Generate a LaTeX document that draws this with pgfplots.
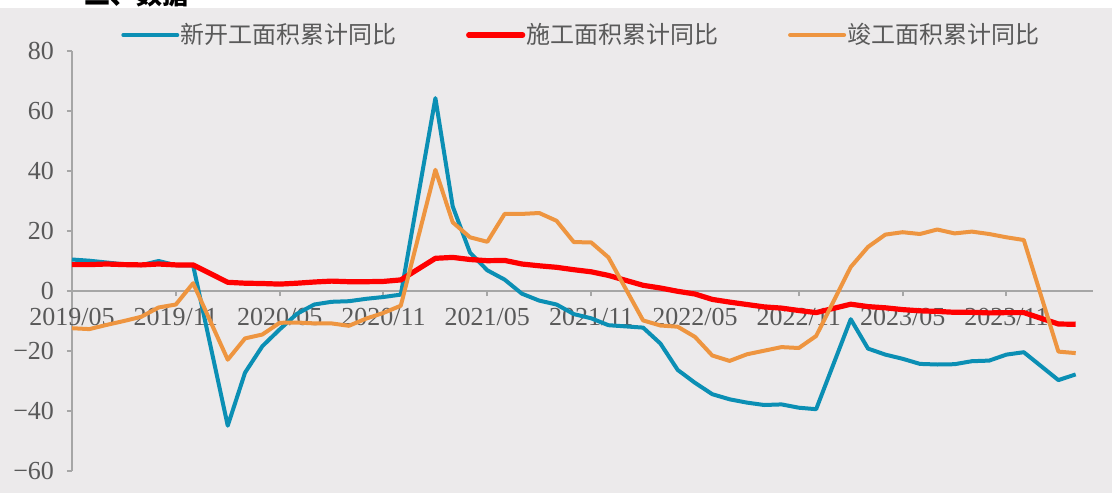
\documentclass[border=0pt]{standalone}
\usepackage{pgfplots}
\pgfplotsset{compat=1.18}
\usepackage{fontspec}
\setmainfont{Liberation Serif}
\newfontfamily\cjk{Noto Sans CJK SC}
\definecolor{bg}{HTML}{ECEAEB}
\definecolor{cblue}{HTML}{0B8FB4}
\definecolor{cred}{HTML}{FF0000}
\definecolor{corange}{HTML}{EE9540}
\definecolor{txt}{HTML}{595959}
\definecolor{axl}{HTML}{A6A6A6}
\pgfplotsset{myleg/.style={legend image code/.code={\draw[##1, line cap=round] (0pt,0pt) -- (27pt,0pt);}}}
\begin{document}
\begin{tikzpicture}
\fill[bg] (-36pt,-11pt) rectangle (520pt,235.5pt);
\fill[white] (-36pt,231.5pt) rectangle (520pt,235.5pt);
\begin{scope}
\clip (-36pt,231.5pt) rectangle (520pt,235.5pt);
\node[anchor=base west, font=\cjk\bfseries\fontsize{13}{13}\selectfont, inner sep=0pt] at (6pt,233.2pt) {二、数据};
\end{scope}
\begin{axis}[
  at={(0pt,0pt)}, anchor=south west,
  scale only axis, width=510.5pt, height=210pt,
  xmin=0, xmax=59, ymin=-60, ymax=80,
  axis y line=left, axis x line=middle,
  hide obscured x ticks=false, hide obscured y ticks=false,
  axis line style={axl, line width=1pt, -},
  xtick={0,6,...,54},
  xticklabels={2019/05,2019/11,2020/05,2020/11,2021/05,2021/11,2022/05,2022/11,2023/05,2023/11},
  ytick={-60,-40,...,80},
  yticklabels={−60,−40,−20,0,20,40,60,80},
  tick align=outside, major tick length=2.5pt,
  tick style={axl, line width=1pt},
  tick label style={font=\fontsize{13}{15}\selectfont, text=txt},
  xticklabel style={anchor=north, yshift=-2.5pt},
  yticklabel style={anchor=east, xshift=-3pt},
  legend columns=3,
  legend style={at={(0.0479,1.038)}, anchor=west, draw=none, fill=none, inner sep=0pt,
    font=\cjk\fontsize{12}{14}\selectfont, text=txt,
    nodes={inner sep=0pt, anchor=west},
    /tikz/every odd column/.append style={column sep=0.6pt},
    /tikz/every even column/.append style={column sep=34.8pt}},
  every axis plot/.append style={line join=round},
]
\addplot[cblue, line width=2pt, myleg] coordinates {
(0,10.5)(1,10.1)(2,9.5)(3,8.9)(4,8.6)(5,10.0)(6,8.6)(7,8.5)
(9,-44.9)(10,-27.2)(11,-18.4)(12,-12.8)(13,-7.6)(14,-4.5)(15,-3.6)(16,-3.4)(17,-2.6)(18,-2.0)(19,-1.2)
(21,64.3)(22,28.2)(23,12.8)(24,6.9)(25,3.8)(26,-0.9)(27,-3.2)(28,-4.5)(29,-7.7)(30,-9.1)(31,-11.4)
(33,-12.2)(34,-17.5)(35,-26.3)(36,-30.6)(37,-34.4)(38,-36.1)(39,-37.2)(40,-38.0)(41,-37.8)(42,-38.9)(43,-39.4)
(45,-9.4)(46,-19.2)(47,-21.2)(48,-22.6)(49,-24.3)(50,-24.5)(51,-24.4)(52,-23.4)(53,-23.2)(54,-21.2)(55,-20.4)
(57,-29.7)(58,-27.8)};
\addlegendentry{新开工面积累计同比}
\addplot[cred, line width=2.6pt, myleg] coordinates {
(0,8.8)(1,8.8)(2,9.0)(3,8.8)(4,8.7)(5,9.0)(6,8.7)(7,8.7)
(9,2.9)(10,2.6)(11,2.5)(12,2.3)(13,2.6)(14,3.0)(15,3.3)(16,3.1)(17,3.1)(18,3.2)(19,3.7)
(21,10.9)(22,11.2)(23,10.5)(24,10.1)(25,10.2)(26,9.0)(27,8.4)(28,7.9)(29,7.1)(30,6.4)(31,5.2)
(33,1.9)(34,1.0)(35,-0.1)(36,-1.0)(37,-2.8)(38,-3.7)(39,-4.5)(40,-5.3)(41,-5.7)(42,-6.5)(43,-7.2)
(45,-4.4)(46,-5.2)(47,-5.6)(48,-6.2)(49,-6.6)(50,-6.8)(51,-7.1)(52,-7.1)(53,-7.3)(54,-7.2)(55,-7.2)
(57,-11.0)(58,-11.1)};
\addlegendentry{施工面积累计同比}
\addplot[corange, line width=2pt, myleg] coordinates {
(0,-12.4)(1,-12.7)(2,-11.3)(3,-10.0)(4,-8.6)(5,-5.5)(6,-4.5)(7,2.6)
(9,-22.9)(10,-15.8)(11,-14.5)(12,-10.6)(13,-10.5)(14,-10.8)(15,-10.8)(16,-11.6)(17,-9.2)(18,-7.3)(19,-4.9)
(21,40.4)(22,22.9)(23,17.9)(24,16.4)(25,25.7)(26,25.7)(27,26.0)(28,23.4)(29,16.3)(30,16.2)(31,11.2)
(33,-9.8)(34,-11.5)(35,-11.9)(36,-15.3)(37,-21.5)(38,-23.3)(39,-21.1)(40,-19.9)(41,-18.7)(42,-19.0)(43,-15.0)
(45,8.0)(46,14.7)(47,18.8)(48,19.6)(49,19.0)(50,20.5)(51,19.2)(52,19.8)(53,19.0)(54,17.9)(55,17.0)
(57,-20.2)(58,-20.7)};
\addlegendentry{竣工面积累计同比}
\end{axis}
\pgfresetboundingbox
\path (-36pt,-11pt) rectangle (520pt,235.5pt);
\end{tikzpicture}
\end{document}
